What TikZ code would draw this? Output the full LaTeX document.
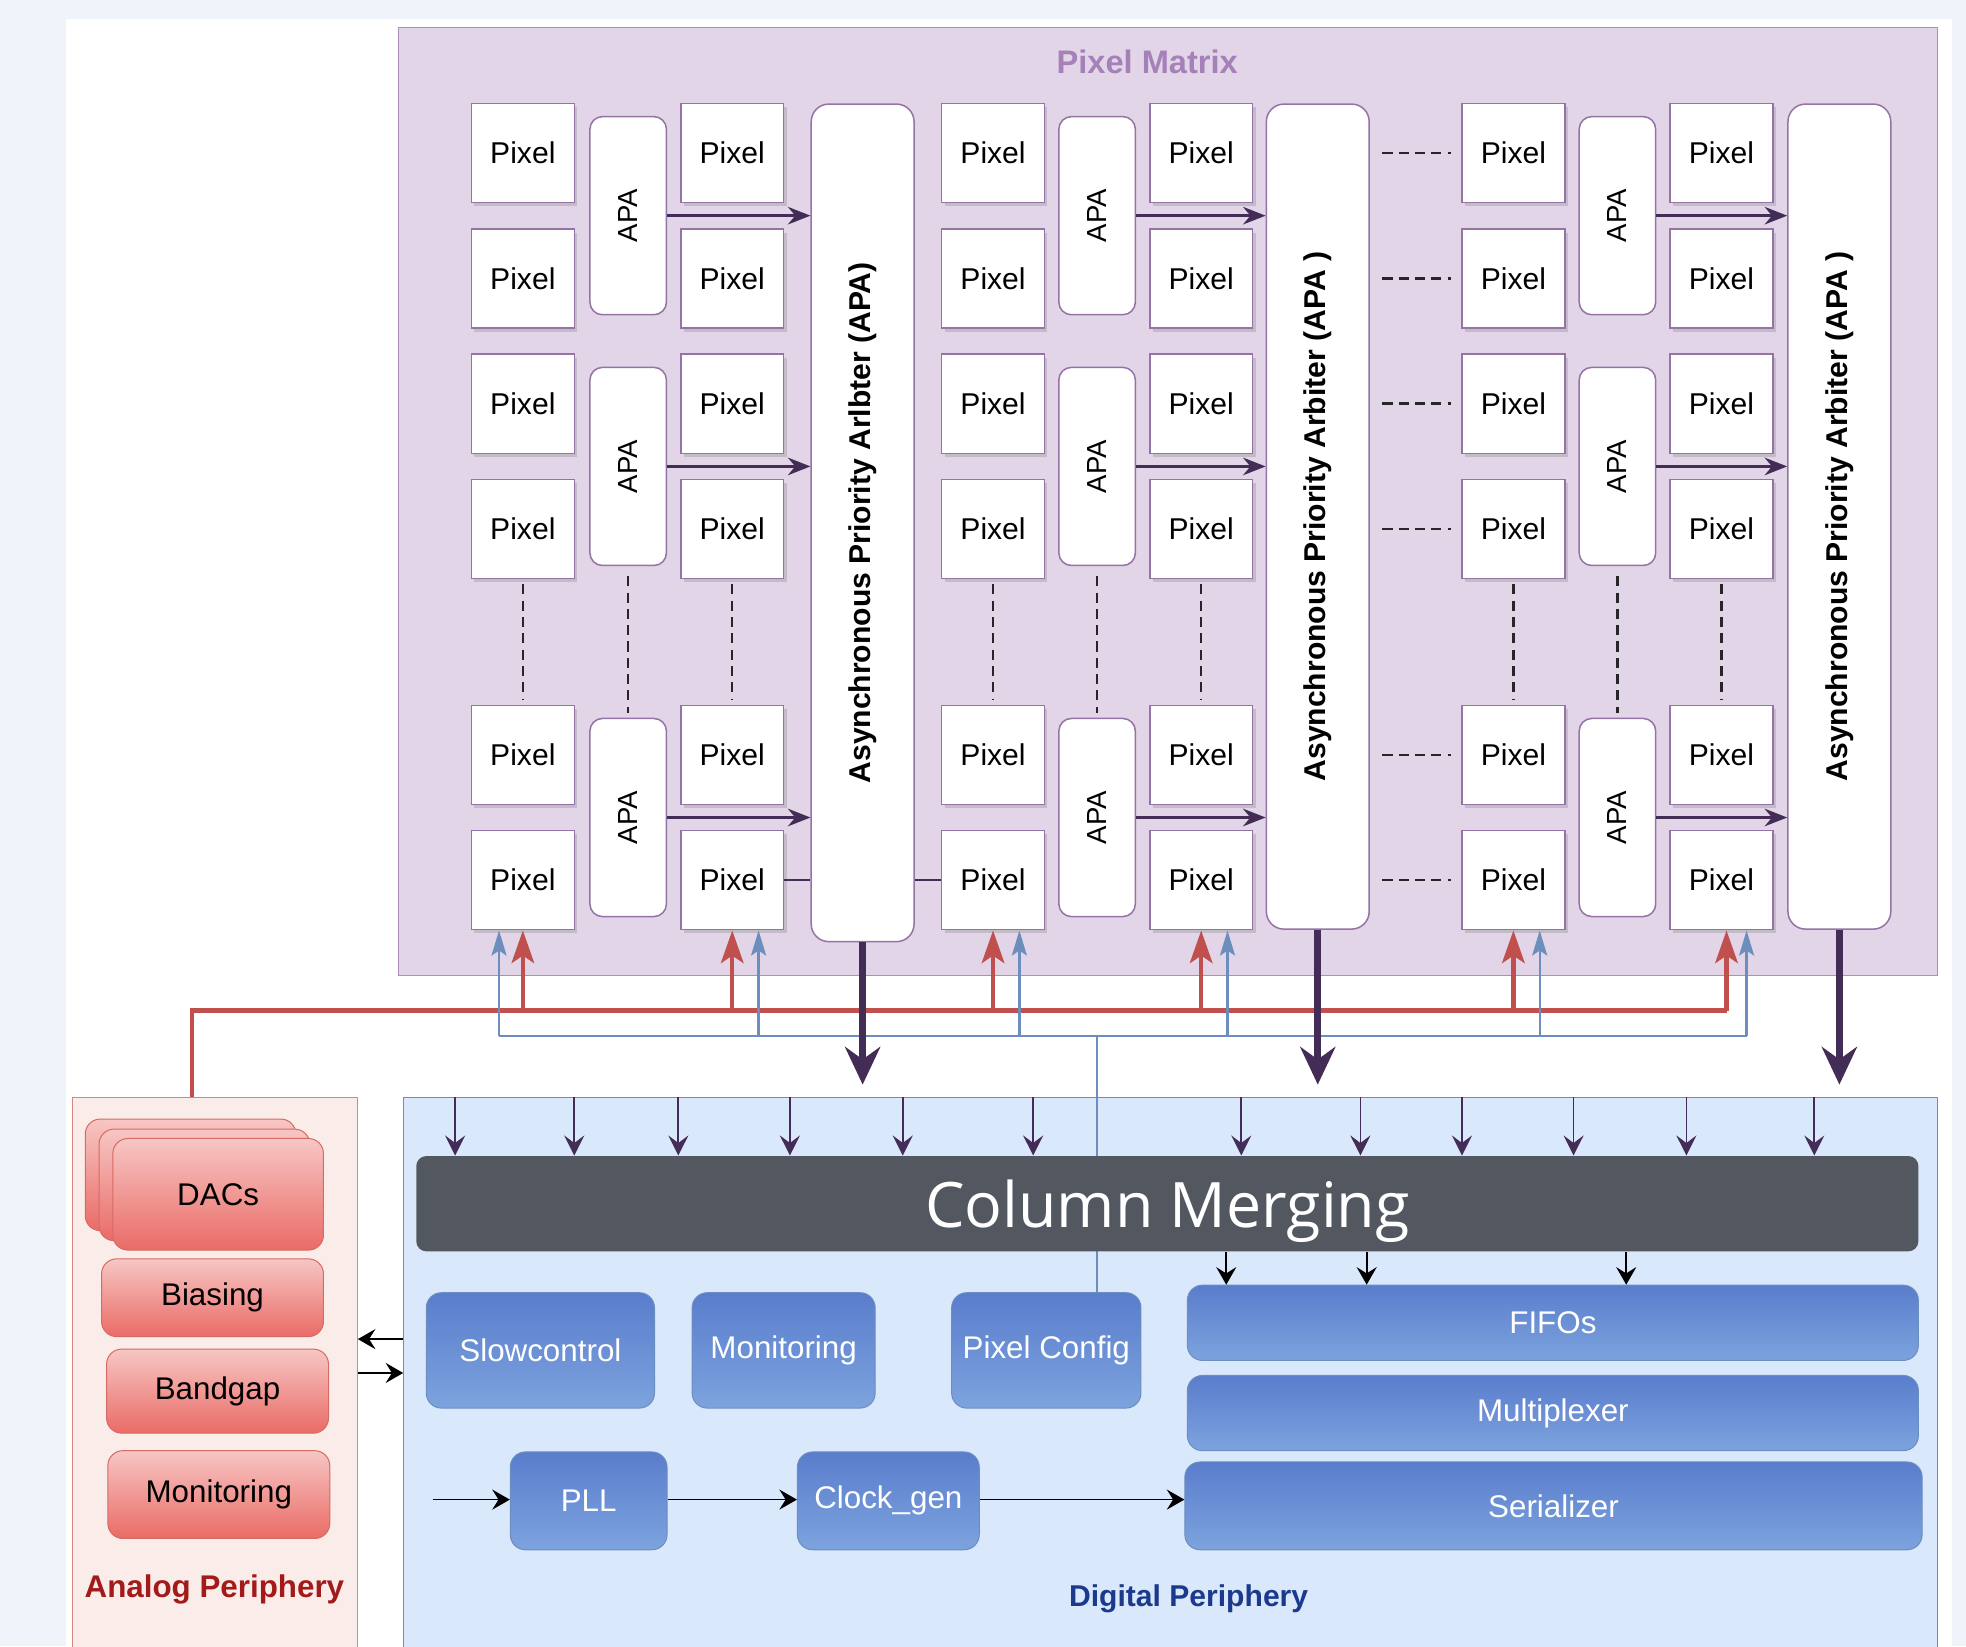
\documentclass[tikz,border=0pt]{standalone}
\usepackage{fontspec}
\setmainfont{Liberation Sans}
\newfontfamily\abierta{Open Sans}
\usepackage{graphicx}
\usetikzlibrary{positioning,arrows.meta,shadows,calc}
\definecolor{fondo}{HTML}{EEF4FA}
\definecolor{matfondo}{HTML}{E1D5E7}
\definecolor{matborde}{HTML}{9673A6}
\definecolor{mattitulo}{HTML}{A680B8}
\definecolor{morado}{HTML}{432D57}
\definecolor{rojo}{HTML}{C0504D}
\definecolor{azul}{HTML}{6C8EBF}
\definecolor{digfondo}{HTML}{DAE8FC}
\definecolor{digtitulo}{HTML}{1C3A8C}
\definecolor{anafondo}{HTML}{FAECE8}
\definecolor{anaborde}{HTML}{D3877F}
\definecolor{anatitulo}{HTML}{A31A1A}
\definecolor{rosaalto}{HTML}{F7C6C4}
\definecolor{rosabajo}{HTML}{EA6B66}
\definecolor{rosaborde}{HTML}{D66A64}
\definecolor{azulalto}{HTML}{5A7DCC}
\definecolor{azulbajo}{HTML}{7DA3DE}
\definecolor{gris}{HTML}{535860}
\tikzset{
  celda/.style={draw=matborde,fill=white,line width=0.6pt,minimum width=41pt,minimum height=39.5pt,inner sep=0pt,
    font=\fontsize{12}{14}\selectfont,drop shadow={shadow xshift=1.2pt,shadow yshift=-1.5pt,opacity=.3}},
  apa/.style={draw=matborde,fill=white,line width=0.6pt,rounded corners=5pt,minimum width=30.5pt,minimum height=79pt,
    inner sep=0pt,font=\fontsize{11}{13}\selectfont},
  arbitro/.style={draw=matborde,fill=white,line width=0.6pt,rounded corners=7pt,minimum width=41pt,inner sep=0pt,
    font=\bfseries\fontsize{12}{14}\selectfont},
  bloqueA/.style={draw=rosaborde,top color=rosaalto,bottom color=rosabajo,rounded corners=6pt,inner sep=0pt,
    font=\fontsize{12.5}{15}\selectfont},
  bloqueD/.style={draw=azul,top color=azulalto,bottom color=azulbajo,rounded corners=6pt,inner sep=0pt,
    text=white,font=\fontsize{12.5}{15}\selectfont},
  flecha/.style={-{Stealth[length=9pt,width=7pt]},line width=1.1pt,color=morado},
  flechagorda/.style={-{Stealth[length=15pt,width=14pt,inset=5pt]},line width=2.7pt,color=morado},
  flechita/.style={-{Stealth[length=8pt,width=8pt,inset=3pt]},line width=0.7pt,color=morado},
  flechanegra/.style={-{Stealth[length=7pt,width=8pt,inset=2.5pt]},line width=0.7pt,color=black},
  linearoja/.style={line width=1.7pt,color=rojo},
  flecharoja/.style={-{Stealth[length=13pt,width=9pt,inset=3pt]},line width=1.7pt,color=rojo},
  lineaazul/.style={line width=0.9pt,color=azul},
  flechaazul/.style={-{Stealth[length=10pt,width=6pt,inset=2pt]},line width=0.9pt,color=azul},
  punteado/.style={draw=black!85,line width=1pt,dash pattern=on 4pt off 2.5pt},
}
\begin{document}
\begin{tikzpicture}[x=0.5pt,y=-0.5pt]
  \useasboundingbox (0,0) rectangle (1568,1313);
  % fondo
  \fill[fondo] (0,0) rectangle (1568,1313);
  \fill[white] (53,15) rectangle (1557,1313);
  % bloques grandes
  \node[draw=matborde!80,fill=matfondo,minimum width=613.5pt,minimum height=378pt] (matriz) at (931.5,400) {};
  \node[font=\bfseries\fontsize{13}{15}\selectfont,text=mattitulo] (tmatriz) at (915,49) {Pixel Matrix};
  \node[draw=anaborde,fill=anafondo,minimum width=113.5pt,minimum height=225pt,anchor=north] (ana) at (171.5,875) {};
  \node[draw=azul,fill=digfondo,minimum width=611.5pt,minimum height=225pt,anchor=north] (dig) at (933.5,875) {};
  % matriz de pixeles
  \foreach \x [count=\c] in {417,584,792,958,1207,1373}
    \foreach \y [count=\r] in {122,222,322,422,602,702}
      \node[celda] (p-\c-\r) at (\x,\y) {Pixel};
  \foreach \x [count=\g] in {501,875,1290}
    \foreach \y [count=\k] in {172,372,652}
      \node[apa] (a-\g-\k) at (\x,\y) {\rotatebox{90}{APA}};
  \newcommand{\arbitroAPA}[4]{% #1 nombre, #2 centro, #3 alto, #4 texto
    \node[arbitro,minimum height=#3] (arb#1) at (#2) {\rotatebox{90}{#4}};}
  \arbitroAPA{1}{688,417}{334pt}{Asynchronous Priority Arlbter (APA)}
  \arbitroAPA{2}{1051,412}{329pt}{Asynchronous Priority Arbiter (APA )}
  \arbitroAPA{3}{1467,412}{329pt}{Asynchronous Priority Arbiter (APA )}
  \foreach \g in {1,2,3}
    \foreach \k in {1,2,3}
      \draw[flecha] (a-\g-\k.east) -- (a-\g-\k.east -| arb\g.west);
  \draw[morado,line width=0.9pt] (p-2-6.east) -- (p-2-6.east -| arb1.west);
  \draw[morado,line width=0.9pt] (arb1.east |- p-3-6.west) -- (p-3-6.west);
  % puntos suspensivos
  \foreach \c in {1,...,6}
    \draw[punteado,shorten <=2pt,shorten >=2pt] (p-\c-4.south) -- (p-\c-5.north);
  \foreach \g in {1,2,3}
    \draw[punteado,shorten <=4pt,shorten >=2pt] (a-\g-2.south) -- (a-\g-3.north);
  \foreach \r in {1,...,6}
    \draw[punteado,shorten <=5pt,shorten >=4pt] (arb2.east |- p-5-\r.west) -- (p-5-\r.west);
  % buses rojo y azul
  \coordinate (rb) at (153,806);
  \coordinate (bb) at (398,826);
  \foreach \c/\dr/\db in {1/0/-19,2/0/21,3/0/21,4/0/21,5/0/21,6/4/20}{
    \coordinate (r\c) at ($(p-\c-6.south)+(\dr,0)$);
    \coordinate (b\c) at ($(p-\c-6.south)+(\db,0)$);
  }
  \draw[linearoja] (ana.north -| rb) -- (rb) -- (rb -| r6);
  \foreach \c in {1,...,6}
    \draw[flecharoja] (r\c |- rb) -- (r\c);
  \draw[lineaazul] (b1 |- bb) -- (b6 |- bb);
  \foreach \c in {1,...,6}
    \draw[flechaazul] (b\c |- bb) -- (b\c);
  \coordinate (ybaja) at (0,865);
  \foreach \k in {1,2,3}
    \draw[flechagorda] (arb\k.south) -- (arb\k.south |- ybaja);
  % periferia digital
  \node[bloqueD,minimum width=91pt,minimum height=46pt] (slow) at (431,1077) {Slowcontrol};
  \node[bloqueD,minimum width=73pt,minimum height=46pt] (mon) at (625,1077) {Monitoring};
  \node[bloqueD,minimum width=75.5pt,minimum height=46pt] (cfg) at (834.5,1077) {Pixel Config};
  \node[bloqueD,minimum width=62.5pt,minimum height=39pt] (pll) at (469.5,1197) {PLL};
  \node[bloqueD,minimum width=72.5pt,minimum height=39pt] (clk) at (708.5,1197) {Clock\_gen};
  \node[bloqueD,minimum width=291.5pt,minimum height=30pt] (fifo) at (1238.5,1055) {FIFOs};
  \node[bloqueD,minimum width=291.5pt,minimum height=30pt] (mux) at (1238.5,1127) {Multiplexer};
  \node[bloqueD,minimum width=294pt,minimum height=35pt] (ser) at (1239,1201) {Serializer};
  \coordinate (bv) at (875,826);
  \draw[lineaazul] (bv) -- (bv |- cfg.north);
  \node[fill=gris,rounded corners=4pt,minimum width=599pt,minimum height=38pt,text=white,
    font=\abierta\fontsize{25}{30}\selectfont] (cm) at (931,960) {\smash{\raisebox{-9.5pt}{Column Merging}}};
  \foreach \x in {363,458,541,630,720,824,990,1085,1166,1255,1345,1447}
    \draw[flechita] (\x,0 |- dig.north) -- (\x,0 |- cm.north);
  \foreach \x in {978,1090,1297}
    \draw[flechanegra] (\x,0 |- cm.south) -- (\x,0 |- fifo.north);
  \coordinate (ent) at (345,1196);
  \draw[flechanegra] (ent) -- (ent -| pll.west);
  \draw[flechanegra] (pll.east |- ent) -- (clk.west |- ent);
  \draw[flechanegra] (clk.east |- ent) -- (ser.west |- ent);
  \node[font=\bfseries\fontsize{12}{14}\selectfont,text=digtitulo] (tdig) at (948,1275) {Digital Periphery};
  % periferia analogica
  \node[bloqueA,minimum width=84pt,minimum height=44.5pt] (dacA) at (152,937) {};
  \node[bloqueA,minimum width=84pt,minimum height=44.5pt] (dacB) at (163,945) {};
  \node[bloqueA,minimum width=84pt,minimum height=44.5pt] (dacC) at (174,952.5) {DACs};
  \node[bloqueA,minimum width=88.5pt,minimum height=31pt] (bias) at (169.5,1035) {Biasing};
  \node[bloqueA,minimum width=88.5pt,minimum height=33.5pt] (bgap) at (173.5,1109.5) {Bandgap};
  \node[bloqueA,minimum width=88.5pt,minimum height=35pt] (amon) at (174.5,1192) {Monitoring};
  \node[font=\bfseries\fontsize{12.5}{15}\selectfont,text=anatitulo] (tana) at (171,1268) {Analog Periphery};
  \coordinate (s1) at (0,1068);
  \coordinate (s2) at (0,1095);
  \draw[flechanegra] (dig.west |- s1) -- (ana.east |- s1);
  \draw[flechanegra] (ana.east |- s2) -- (dig.west |- s2);
\end{tikzpicture}
\end{document}
